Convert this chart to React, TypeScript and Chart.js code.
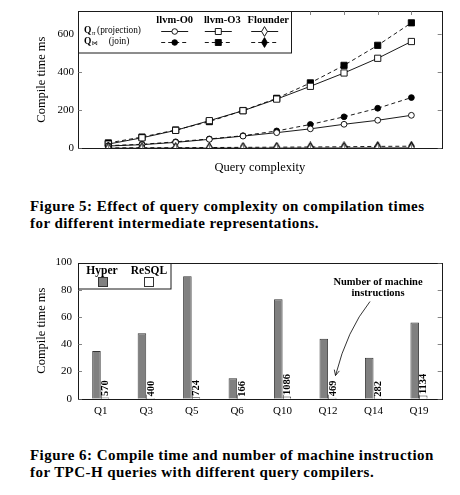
import React, { useEffect, useRef } from "react";
import { Chart, registerables } from "chart.js";

Chart.register(...registerables);

// ---------- Figure 5 data ----------
const complexity = [1, 2, 3, 4, 5, 6, 7, 8, 9, 10];
const o0Projection = [12, 19, 31, 47, 64, 82, 102, 126, 147, 173];
const o0Join = [14, 21, 34, 49, 66, 91, 125, 165, 210, 266];
const o3Projection = [22, 55, 94, 145, 197, 258, 325, 395, 472, 560];
const o3Join = [28, 59, 96, 140, 198, 262, 343, 435, 540, 658];
const flounderProjection = [0.5, 0.5, 1, 1, 1, 1, 1.5, 1.5, 2, 2];
const flounderJoin = [2, 3, 3, 4, 5, 6, 7, 8, 10, 11];
const fig5Ticks = [0, 200, 400, 600];

// ---------- Figure 6 data ----------
const queries = ["Q1", "Q3", "Q5", "Q6", "Q10", "Q12", "Q14", "Q19"];
const hyperMs = [35, 48, 90, 15, 73, 44, 30, 56];
const resqlMs = [0.8, 0.6, 1.0, 0.3, 1.6, 0.7, 0.4, 2.3];
const resqlInstructions = [570, 400, 724, 166, 1086, 469, 282, 1134];
const fig6Ticks = [0, 20, 40, 60, 80, 100];

const SERIF = "'Liberation Serif', 'Times New Roman', serif";
const INK = "#1a1a1a";
const FIG6_TOP = 250; // page y of the second canvas

function makeDiamond(filled: boolean): HTMLCanvasElement {
  const c = document.createElement("canvas");
  c.width = 7;
  c.height = 11;
  const ctx = c.getContext("2d")!;
  ctx.beginPath();
  ctx.moveTo(3.5, 0.6);
  ctx.lineTo(6.4, 5.5);
  ctx.lineTo(3.5, 10.4);
  ctx.lineTo(0.6, 5.5);
  ctx.closePath();
  ctx.fillStyle = filled ? "#000" : "#fff";
  ctx.fill();
  ctx.strokeStyle = "#000";
  ctx.lineWidth = 0.9;
  ctx.stroke();
  return c;
}

function drawMarker(ctx: CanvasRenderingContext2D, kind: string, filled: boolean, x: number, y: number, diamond?: HTMLCanvasElement) {
  ctx.save();
  ctx.lineWidth = 0.9;
  ctx.strokeStyle = "#000";
  ctx.fillStyle = filled ? "#000" : "#fff";
  if (kind === "circle") {
    ctx.beginPath();
    ctx.arc(x, y, 2.8, 0, Math.PI * 2);
    ctx.fill();
    ctx.stroke();
  } else if (kind === "rect") {
    ctx.beginPath();
    ctx.rect(x - 3, y - 3, 6, 6);
    ctx.fill();
    ctx.stroke();
  } else if (diamond) {
    ctx.drawImage(diamond, Math.round(x - diamond.width / 2), Math.round(y - diamond.height / 2));
  }
  ctx.restore();
}

function lineSet(label: string, values: number[], style: any, filled: boolean, dashed: boolean, radius: number) {
  return {
    label,
    data: complexity.map((x, i) => ({ x, y: values[i] })),
    borderColor: "#000",
    borderWidth: 0.9,
    borderDash: dashed ? [4, 3] : [],
    pointStyle: style,
    pointRadius: radius,
    pointBackgroundColor: filled ? "#000" : "#fff",
    pointBorderColor: "#000",
    pointBorderWidth: 0.9,
    tension: 0,
    fill: false,
  };
}

export default function App() {
  const ref1 = useRef<HTMLCanvasElement>(null);
  const ref2 = useRef<HTMLCanvasElement>(null);

  useEffect(() => {
    const diamondOpen = makeDiamond(false);
    const diamondFilled = makeDiamond(true);

    const fig5Plugin = {
      id: "fig5deco",
      afterDraw(chart: any) {
        const { ctx, chartArea: a, scales } = chart;
        const ys = scales.y;
        const xs = scales.x;
        ctx.save();
        ctx.strokeStyle = INK;
        ctx.lineWidth = 1;
        ctx.strokeRect(Math.round(a.left) + 0.5, Math.round(a.top) + 0.5, Math.round(a.right - a.left), Math.round(a.bottom - a.top));
        ctx.strokeStyle = "#666";
        ctx.lineWidth = 0.8;
        fig5Ticks.forEach((v) => {
          const y = Math.round(ys.getPixelForValue(v)) + 0.5;
          ctx.beginPath();
          ctx.moveTo(a.left, y);
          ctx.lineTo(a.left + 4, y);
          ctx.moveTo(a.right, y);
          ctx.lineTo(a.right - 4, y);
          ctx.stroke();
        });
        complexity.forEach((v) => {
          const x = Math.round(xs.getPixelForValue(v)) + 0.5;
          ctx.beginPath();
          ctx.moveTo(x, a.top);
          ctx.lineTo(x, a.top + 4);
          ctx.moveTo(x, a.bottom);
          ctx.lineTo(x, a.bottom - 4);
          ctx.stroke();
        });
        ctx.fillStyle = "#000";
        ctx.font = `12.5px ${SERIF}`;
        ctx.textAlign = "center";
        ctx.textBaseline = "middle";
        ctx.fillText("Query complexity", (a.left + a.right) / 2, 168);
        ctx.save();
        ctx.translate(41.5, (a.top + a.bottom) / 2);
        ctx.rotate(-Math.PI / 2);
        ctx.fillText("Compile time ms", 0, 0);
        ctx.restore();

        // legend
        const lx = 78.5, ly = Math.round(a.top) + 0.5, lw = 213, lh = 41.5;
        ctx.fillStyle = "#fff";
        ctx.fillRect(lx, ly, lw, lh);
        ctx.strokeStyle = INK;
        ctx.lineWidth = 1;
        ctx.strokeRect(lx, ly, lw, lh);
        ctx.fillStyle = "#000";
        ctx.font = `bold 10.5px ${SERIF}`;
        ctx.textAlign = "center";
        ctx.fillText("llvm-O0", 174.7, 20);
        ctx.fillText("llvm-O3", 222.3, 20);
        ctx.fillText("Flounder", 268.3, 20);
        const rows = [
          { y: 30.5, sub: "π", subFont: `italic 7px ${SERIF}`, text: "(projection)", dashed: false, filled: false },
          { y: 41.5, sub: "⋈", subFont: `6px 'DejaVu Sans', sans-serif`, text: "(join)", dashed: true, filled: true },
        ];
        rows.forEach((r) => {
          ctx.textAlign = "left";
          ctx.font = `bold 9.5px ${SERIF}`;
          ctx.fillText("Q", 84, r.y);
          const qw = ctx.measureText("Q").width;
          ctx.font = r.subFont;
          ctx.fillText(r.sub, 84 + qw + 0.3, r.y + 2.3);
          ctx.font = `9.3px ${SERIF}`;
          ctx.textAlign = "center";
          ctx.fillText(r.text, 119, r.y);
          const samples = [
            { cx: 174.7, kind: "circle" },
            { cx: 218.3, kind: "rect" },
            { cx: 264.7, kind: "diamond" },
          ];
          samples.forEach((s) => {
            ctx.save();
            ctx.strokeStyle = "#000";
            ctx.lineWidth = 0.9;
            ctx.setLineDash(r.dashed ? [4, 3] : []);
            ctx.beginPath();
            ctx.moveTo(s.cx - 13.5, Math.round(r.y) + 0.5);
            ctx.lineTo(s.cx + 13.5, Math.round(r.y) + 0.5);
            ctx.stroke();
            ctx.restore();
            drawMarker(ctx, s.kind, r.filled, s.cx, Math.round(r.y) + 0.5, r.filled ? diamondFilled : diamondOpen);
          });
        });
        ctx.restore();
      },
    };

    const c1 = new Chart(ref1.current!, {
      type: "line",
      data: {
        datasets: [
          lineSet("Flounder projection", flounderProjection, diamondOpen, false, false, 4),
          lineSet("Flounder join", flounderJoin, diamondFilled, true, true, 4),
          lineSet("llvm-O0 projection", o0Projection, "circle", false, false, 2.9),
          lineSet("llvm-O0 join", o0Join, "circle", true, true, 2.9),
          lineSet("llvm-O3 projection", o3Projection, "rect", false, false, 4.4),
          lineSet("llvm-O3 join", o3Join, "rect", true, true, 4.4),
        ],
      } as any,
      options: {
        responsive: false,
        animation: false,
        events: [],
        layout: { padding: { top: 11, right: 18.3, left: 0, bottom: 0 } },
        plugins: { legend: { display: false }, tooltip: { enabled: false } },
        scales: {
          x: {
            type: "linear",
            min: 0.1,
            max: 10.9,
            ticks: { display: false },
            grid: { display: false, drawTicks: false },
            border: { display: false },
            afterFit: (s: any) => {
              s.height = 185 - 148.3;
            },
          },
          y: {
            min: 0,
            max: 720,
            ticks: { color: "#000", font: { family: SERIF, size: 11 }, padding: 4 },
            grid: { display: false, drawTicks: false },
            border: { display: false },
            afterBuildTicks: (s: any) => {
              s.ticks = fig5Ticks.map((v) => ({ value: v }));
            },
            afterFit: (s: any) => {
              s.width = 78;
            },
          },
        },
      } as any,
      plugins: [fig5Plugin],
    });

    const fig6Plugin = {
      id: "fig6deco",
      afterDraw(chart: any) {
        const { ctx, chartArea: a, scales } = chart;
        const ys = scales.y;
        const xs = scales.x;
        const py = (pageY: number) => pageY - FIG6_TOP;
        ctx.save();
        ctx.strokeStyle = INK;
        ctx.lineWidth = 1;
        ctx.strokeRect(Math.round(a.left) + 0.5, Math.round(a.top) + 0.5, Math.round(a.right - a.left), Math.round(a.bottom - a.top));
        ctx.strokeStyle = "#666";
        ctx.lineWidth = 0.8;
        fig6Ticks.forEach((v) => {
          const y = Math.round(ys.getPixelForValue(v)) + 0.5;
          ctx.beginPath();
          ctx.moveTo(a.left, y);
          ctx.lineTo(a.left + 4, y);
          ctx.moveTo(a.right, y);
          ctx.lineTo(a.right - 4, y);
          ctx.stroke();
        });
        queries.forEach((_, i) => {
          const x = Math.round(xs.getPixelForTick(i)) + 0.5;
          ctx.beginPath();
          ctx.moveTo(x, a.bottom);
          ctx.lineTo(x, a.bottom - 4);
          ctx.stroke();
        });
        ctx.fillStyle = "#000";
        ctx.font = `12.5px ${SERIF}`;
        ctx.textAlign = "center";
        ctx.textBaseline = "middle";
        ctx.save();
        ctx.translate(41.5, (a.top + a.bottom) / 2);
        ctx.rotate(-Math.PI / 2);
        ctx.fillText("Compile time ms", 0, 0);
        ctx.restore();

        // instruction count labels
        const meta = chart.getDatasetMeta(1);
        ctx.font = `bold 10.5px ${SERIF}`;
        ctx.textAlign = "left";
        ctx.textBaseline = "middle";
        meta.data.forEach((bar: any, i: number) => {
          ctx.save();
          ctx.translate(bar.x + 0.5, bar.y - 1.5);
          ctx.rotate(-Math.PI / 2);
          ctx.fillText(String(resqlInstructions[i]), 0, 0);
          ctx.restore();
        });

        // legend
        const lx = 78.5, ly = Math.round(a.top) + 0.5, lw = 92.5, lh = 25.5;
        ctx.fillStyle = "#fff";
        ctx.fillRect(lx, ly, lw, lh);
        ctx.strokeStyle = INK;
        ctx.lineWidth = 1;
        ctx.strokeRect(lx, ly, lw, lh);
        ctx.fillStyle = "#000";
        ctx.font = `bold 11.5px ${SERIF}`;
        ctx.textAlign = "center";
        ctx.fillText("Hyper", 102, ly + 7.5);
        ctx.fillText("ReSQL", 149, ly + 7.5);
        ctx.fillStyle = "#808080";
        ctx.fillRect(98.5, ly + 14, 9, 9);
        ctx.strokeStyle = "#333";
        ctx.strokeRect(98.5, ly + 14, 9, 9);
        ctx.fillStyle = "#fff";
        ctx.fillRect(144.5, ly + 14, 9, 9);
        ctx.strokeRect(144.5, ly + 14, 9, 9);

        // annotation
        ctx.fillStyle = "#000";
        ctx.font = `bold 10.5px ${SERIF}`;
        ctx.fillText("Number of machine", 378, py(282.3));
        ctx.fillText("instructions", 378, py(293.3));
        ctx.strokeStyle = "#000";
        ctx.lineWidth = 0.8;
        const p0 = { x: 370, y: py(301.5) };
        const cp = { x: 347, y: py(330) };
        const p2 = { x: 335.5, y: py(375.5) };
        ctx.beginPath();
        ctx.moveTo(p0.x, p0.y);
        ctx.quadraticCurveTo(cp.x, cp.y, p2.x, p2.y);
        ctx.stroke();
        const ang = Math.atan2(p2.y - cp.y, p2.x - cp.x);
        ctx.beginPath();
        ctx.moveTo(p2.x - 6 * Math.cos(ang - 0.45), p2.y - 6 * Math.sin(ang - 0.45));
        ctx.lineTo(p2.x, p2.y);
        ctx.lineTo(p2.x - 6 * Math.cos(ang + 0.45), p2.y - 6 * Math.sin(ang + 0.45));
        ctx.stroke();
        ctx.restore();
      },
    };

    const c2 = new Chart(ref2.current!, {
      type: "bar",
      data: {
        labels: queries,
        datasets: [
          { label: "Hyper", data: hyperMs, backgroundColor: "#808080", borderColor: "#333", borderWidth: 0.9 },
          { label: "ReSQL", data: resqlMs, backgroundColor: "#fff", borderColor: "#333", borderWidth: 0.9 },
        ],
      },
      options: {
        responsive: false,
        animation: false,
        events: [],
        categoryPercentage: 0.375,
        barPercentage: 1,
        layout: { padding: { top: 12.3, right: 18.3, left: 0, bottom: 0 } },
        plugins: { legend: { display: false }, tooltip: { enabled: false } },
        scales: {
          x: {
            ticks: { color: "#000", font: { family: SERIF, size: 11 }, padding: 6 },
            grid: { display: false, drawTicks: false },
            border: { display: false },
            afterFit: (s: any) => {
              s.height = 180 - 148.7;
            },
          },
          y: {
            min: 0,
            max: 100,
            ticks: { color: "#000", font: { family: SERIF, size: 11 }, padding: 6 },
            grid: { display: false, drawTicks: false },
            border: { display: false },
            afterBuildTicks: (s: any) => {
              s.ticks = fig6Ticks.map((v) => ({ value: v }));
            },
            afterFit: (s: any) => {
              s.width = 78;
            },
          },
        },
      } as any,
      plugins: [fig6Plugin],
    });

    return () => {
      c1.destroy();
      c2.destroy();
    };
  }, []);

  const caption = (top: number): React.CSSProperties => ({
    position: "absolute",
    left: 30,
    top,
    fontFamily: SERIF,
    fontWeight: "bold",
    fontSize: 15,
    lineHeight: "16.5px",
    letterSpacing: "0.45px",
    whiteSpace: "nowrap",
    color: "#000",
  });

  return (
    <div style={{ position: "absolute", left: 0, top: 0, width: 460, height: 495, background: "#fff", overflow: "hidden" }}>
      <canvas ref={ref1} width={460} height={185} style={{ position: "absolute", left: 0, top: 0 }} />
      <div style={caption(198.3)}>
        <div>Figure 5: Effect of query complexity on compilation times</div>
        <div>for different intermediate representations.</div>
      </div>
      <canvas ref={ref2} width={460} height={180} style={{ position: "absolute", left: 0, top: FIG6_TOP }} />
      <div style={caption(447)}>
        <div>Figure 6: Compile time and number of machine instruction</div>
        <div>for TPC-H queries with different query compilers.</div>
      </div>
    </div>
  );
}
